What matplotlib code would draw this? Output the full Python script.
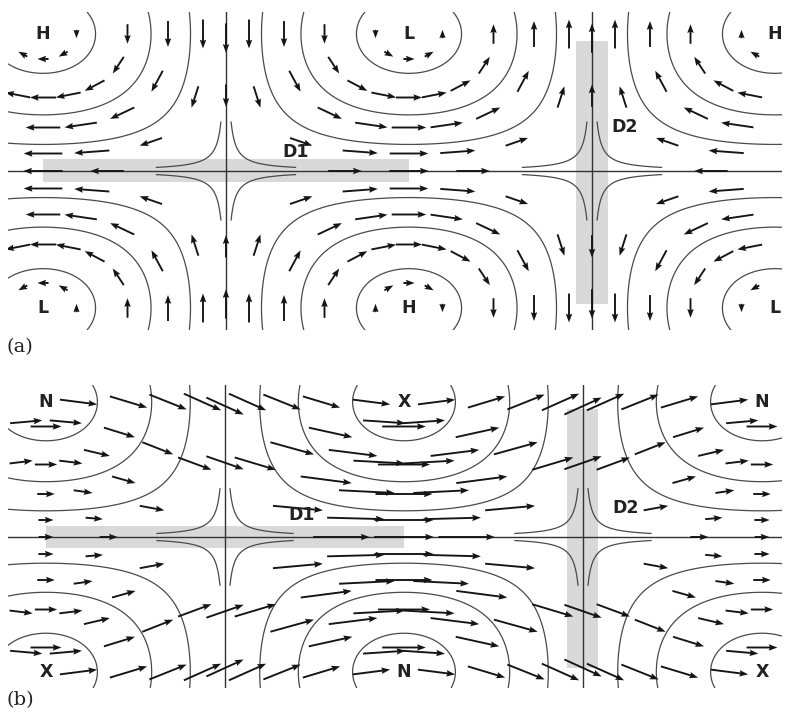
import numpy as np
import matplotlib.pyplot as plt

# grid units: centres at x = 0, 2, 4 (y = +1 top, -1 bottom), saddles D1, D2 at x = 1, 3 on y = 0
centre_x = [0, 2, 4]
saddle_x = [1, 3]
saddle_names = ["D1", "D2"]
psi_levels = [-0.9, -0.6, -0.3, 0.3, 0.6, 0.9]

top_labels_a = ["H", "L", "H"]
bottom_labels_a = ["L", "H", "L"]
top_labels_b = ["N", "X", "N"]
bottom_labels_b = ["X", "N", "X"]

# arrow rings round each centre: |psi| of the ring and angular step (deg)
ring_levels = [0.96, 0.75, 0.48, 0.2]
ring_steps = [45, 22.5, 22.5, 22.5]
axis_arrow_dx = [-0.35, 0.0, 0.35]     # arrows on the y = 0 line, offset from each centre
line_arrow_y = [0.55, 0.97]            # arrows on the x = 1, 3 lines

background_u = [0.0, 2.6]              # (a) no basic current, (b) uniform westerly
arrow_scale = [7.3, 12.5]

# panel frames in pixels: left, right, top, bottom, and grid-unit size in px
frames = [
    dict(left=8, right=782, top=12, bottom=330, x0=43, sx=183, y0=171, sy=137),
    dict(left=8, right=782, top=385, bottom=688, x0=46, sx=179, y0=537, sy=135),
]


def psi(x, y):
    return np.cos(np.pi * x / 2) * np.sin(np.pi * y / 2)


def wind(x, y, u0):
    u = -np.pi / 2 * np.cos(np.pi * x / 2) * np.cos(np.pi * y / 2) + u0
    v = -np.pi / 2 * np.sin(np.pi * x / 2) * np.sin(np.pi * y / 2)
    return u, v


def ring_points(cx, cy, level, step, sx, sy):
    pts = []
    for th in np.arange(0, 180.1, step):
        t = np.radians(th)
        dx = np.cos(t) / sx
        dy = -np.sign(cy) * np.sin(t) / sy
        r = 0.0
        while abs(psi(cx + r * dx, cy + r * dy)) > level and r < 400:
            r += 0.5
        pts.append((cx + r * dx, cy + r * dy))
    return pts


W, H = 791, 717
fig = plt.figure(figsize=(W / 100, H / 100), dpi=100)

for k, fr in enumerate(frames):
    xmin = (fr["left"] - fr["x0"]) / fr["sx"]
    xmax = (fr["right"] - fr["x0"]) / fr["sx"]
    ymax = (fr["y0"] - fr["top"]) / fr["sy"]
    ymin = (fr["y0"] - fr["bottom"]) / fr["sy"]
    ax = fig.add_axes([fr["left"] / W, 1 - fr["bottom"] / H,
                       (fr["right"] - fr["left"]) / W, (fr["bottom"] - fr["top"]) / H])
    ax.set_xlim(xmin, xmax)
    ax.set_ylim(ymin, ymax)
    ax.axis("off")

    # shaded axes of dilatation
    ax.fill_between([0, 2], -0.08, 0.085, color="#d9d9d9", lw=0, zorder=0)
    ax.fill_between([2.91, 3.085], -0.97, 0.95, color="#d9d9d9", lw=0, zorder=0)

    # streamlines
    gx = np.linspace(xmin, xmax, 600)
    gy = np.linspace(ymin, ymax, 400)
    X, Y = np.meshgrid(gx, gy)
    ax.contour(X, Y, psi(X, Y), levels=psi_levels, colors="#4a4a4a", linewidths=0.9,
               linestyles="solid", zorder=1)
    ax.axhline(0, color="#333333", lw=1.0, zorder=1)
    for s in saddle_x:
        ax.axvline(s, color="#333333", lw=1.0, zorder=1)
        # hyperbolae at the saddle
        t = np.linspace(0.028, 0.38, 100)
        for sgx in (-1, 1):
            for sgy in (-1, 1):
                ax.plot(s + sgx * t, sgy * 0.01 / t, color="#4a4a4a", lw=0.9, zorder=1)

    # arrow positions
    pts = []
    for cx in centre_x:
        for cy in (1, -1):
            for lev, st in zip(ring_levels, ring_steps):
                pts += ring_points(cx, cy, lev, st, fr["sx"], fr["sy"])
        for d in axis_arrow_dx:
            pts.append((cx + d, 0.0))
    for s in saddle_x:
        for yy in line_arrow_y:
            pts += [(s, yy), (s, -yy)]
    pts = np.array([p for p in pts if xmin + 0.04 < p[0] < xmax - 0.04])
    u, v = wind(pts[:, 0], pts[:, 1], background_u[k])
    ax.quiver(pts[:, 0], pts[:, 1], u, v, angles="xy", scale_units="xy",
              scale=arrow_scale[k], pivot="mid", color="#151515", units="dots",
              width=1.9, headwidth=3.4, headlength=4.6, headaxislength=4.1, zorder=3)

    tops = top_labels_a if k == 0 else top_labels_b
    bots = bottom_labels_a if k == 0 else bottom_labels_b
    for cx, lt, lb in zip(centre_x, tops, bots):
        for cy, lab in ((1, lt), (-1, lb)):
            ax.text(cx, cy, lab, ha="center", va="center", fontsize=12.5,
                    fontweight="bold", family="DejaVu Sans", color="#222222", zorder=4)

    if k == 0:
        d_pos = [(1.38, 0.14), (3.18, 0.32)]
    else:
        d_pos = [(1.43, 0.16), (3.24, 0.215)]
    for name, (dx_, dy_) in zip(saddle_names, d_pos):
        ax.text(dx_, dy_, name, ha="center", va="center", fontsize=12.5,
                fontweight="bold", family="DejaVu Sans", color="#222222", zorder=4)

fig.text(7 / W, 1 - 347 / H, "(a)", ha="left", va="center", fontsize=14,
         family="DejaVu Serif", color="#222222")
fig.text(7 / W, 1 - 700 / H, "(b)", ha="left", va="center", fontsize=14,
         family="DejaVu Serif", color="#222222")

fig.savefig("out.png", dpi=100)
